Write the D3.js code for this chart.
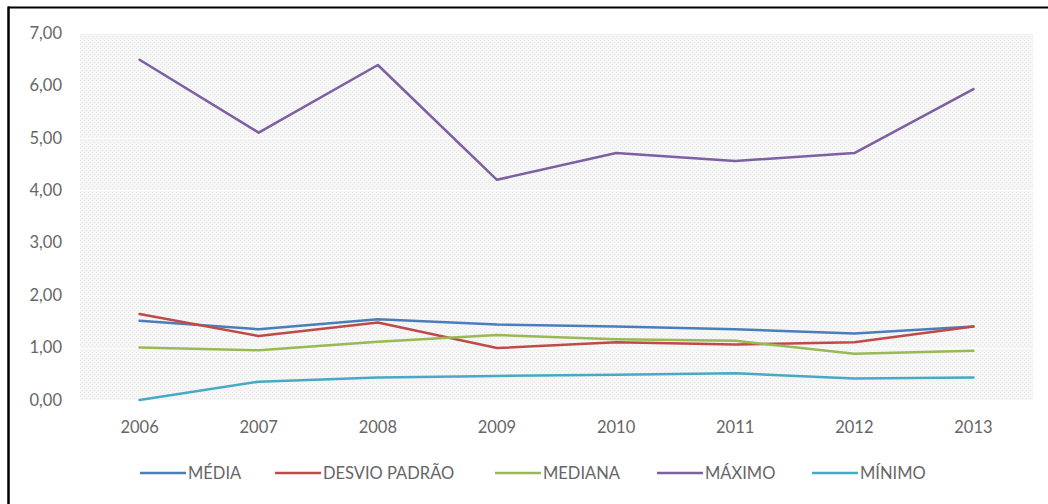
<!DOCTYPE html>
<html><head><meta charset="utf-8">
<script src="https://cdn.jsdelivr.net/npm/d3@7"></script>
<style>
html,body{margin:0;padding:0;background:#fff;}
svg{display:block;}
text{font-family:Lato,"Open Sans",sans-serif;}
</style></head>
<body>
<svg id="chart" width="1048" height="504"></svg>
<script>
const categories = ["2006","2007","2008","2009","2010","2011","2012","2013"];
const media   = [1.51,1.35,1.54,1.44,1.40,1.35,1.27,1.40];
const desvio  = [1.64,1.22,1.48,0.99,1.10,1.06,1.10,1.40];
const mediana = [1.00,0.95,1.11,1.24,1.16,1.13,0.88,0.94];
const maximo  = [6.49,5.10,6.39,4.20,4.71,4.56,4.71,5.93];
const minimo  = [0.00,0.35,0.43,0.46,0.48,0.51,0.41,0.43];
const seriesNames = ["MÉDIA","DESVIO PADRÃO","MEDIANA","MÁXIMO","MÍNIMO"];
const seriesColors = ["#4a7ebb","#be4b48","#98b954","#7d60a0","#46aac5"];
const yTicks = [0,1,2,3,4,5,6,7];

const seriesData = [media, desvio, mediana, maximo, minimo];
const svg = d3.select("#chart");
const FONT = "Lato, 'Open Sans', sans-serif";
const FS = "16.5px";
const TXT = "#666666";

// document frame (cropped box)
svg.append("line").attr("x1",8).attr("x2",1048).attr("y1",7.5).attr("y2",7.5).attr("stroke","#000").attr("stroke-width",2);
svg.append("line").attr("x1",8.5).attr("x2",8.5).attr("y1",6.5).attr("y2",504).attr("stroke","#000").attr("stroke-width",2.5);

const plot = {left:80, right:1033, top:33, bottom:400};

// hatch pattern for plot background
const defs = svg.append("defs");
const pat = defs.append("pattern").attr("id","hatch").attr("patternUnits","userSpaceOnUse").attr("width",4).attr("height",4);
pat.append("rect").attr("width",4).attr("height",4).attr("fill","#f6f6f6");
pat.append("rect").attr("x",0).attr("y",0).attr("width",1).attr("height",1).attr("fill","#e8e8e8");
pat.append("rect").attr("x",2).attr("y",2).attr("width",1).attr("height",1).attr("fill","#e8e8e8");

svg.append("rect").attr("x",plot.left).attr("y",plot.top)
  .attr("width",plot.right-plot.left).attr("height",plot.bottom-plot.top)
  .attr("fill","url(#hatch)");

const x = d3.scaleBand().domain(categories).range([plot.left, plot.right]);
const y = d3.scaleLinear().domain([0,7]).range([plot.bottom, plot.top]);

// faint gridlines
svg.append("g").selectAll("line").data(yTicks.slice(1)).join("line")
  .attr("x1",plot.left).attr("x2",plot.right)
  .attr("y1",d=>Math.round(y(d))+0.5).attr("y2",d=>Math.round(y(d))+0.5)
  .attr("stroke","#fbfbfb").attr("stroke-width",1);

// y axis labels
const yAxis = d3.axisLeft(y).tickValues(yTicks).tickSize(0).tickPadding(0)
  .tickFormat(d=>d3.format(".2f")(d).replace(".",","));
const gy = svg.append("g").attr("transform",`translate(62,0)`).call(yAxis);
gy.select(".domain").remove();
gy.selectAll("text").attr("fill",TXT).style("font-size",FS).style("font-family",FONT);

// x axis labels
const xAxis = d3.axisBottom(x).tickSize(0).tickPadding(0);
const gx = svg.append("g").attr("transform",`translate(0,421)`).call(xAxis);
gx.select(".domain").remove();
gx.selectAll("text").attr("fill",TXT).style("font-size",FS).style("font-family",FONT);

// lines
const line = d3.line().x((d,i)=>x(categories[i])+x.bandwidth()/2).y(d=>y(d));
svg.append("g").selectAll("path").data(seriesData).join("path")
  .attr("d",d=>line(d)).attr("fill","none")
  .attr("stroke",(d,i)=>seriesColors[i]).attr("stroke-width",2.5)
  .attr("stroke-linejoin","round").attr("stroke-linecap","round");

// legend
const legendX = [140,275,495,657,812];
const lg = svg.append("g").selectAll("g").data(seriesNames).join("g")
  .attr("transform",(d,i)=>`translate(${legendX[i]},473)`);
lg.append("line").attr("x1",0).attr("x2",46).attr("y1",0).attr("y2",0)
  .attr("stroke",(d,i)=>seriesColors[i]).attr("stroke-width",2.5);
lg.append("text").attr("x",48).attr("y",0).attr("dy","0.35em")
  .attr("fill",TXT).style("font-size",FS).style("font-family",FONT).text(d=>d);
</script>
</body></html>
